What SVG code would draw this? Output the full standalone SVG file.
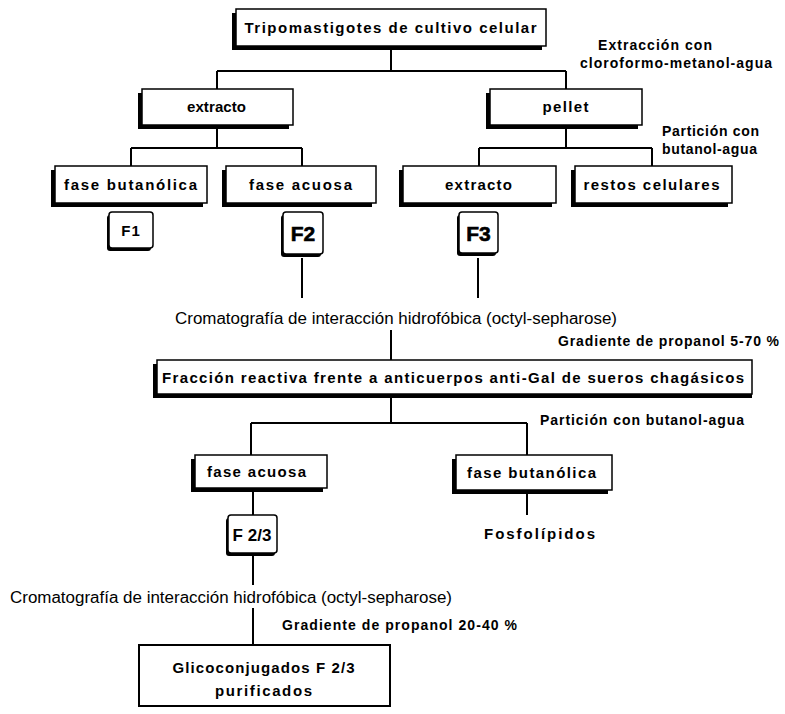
<svg xmlns="http://www.w3.org/2000/svg" width="785" height="714" viewBox="0 0 785 714">
<style>
.bg{fill:#fff}
.sh{fill:#000}
.bx{fill:#fff;stroke:#000;stroke-width:1.5}
.lbl{font-family:"Liberation Sans",Arial,sans-serif;font-weight:bold;font-size:15px;letter-spacing:1px;text-anchor:middle;fill:#000}
.big{font-family:"Liberation Sans",Arial,sans-serif;font-weight:900;font-size:21px;text-anchor:middle;fill:#000;stroke:#000;stroke-width:0.6}
.note{font-family:"Liberation Sans",Arial,sans-serif;font-weight:bold;font-size:14px;letter-spacing:1px;fill:#000}
.plain{font-family:"Liberation Sans",Arial,sans-serif;font-size:16px;fill:#000}
.con{stroke:#000;stroke-width:2;fill:none}
</style>
<rect class="bg" x="0" y="0" width="785" height="714"/>
<g id="connectors">
<path class="con" d="M391 46V71M217 71H566M217 71V89M566 71V89"/>
<path class="con" d="M217 125V148M131 148H302M131 148V166M302 148V166"/>
<path class="con" d="M566 125V148M479 148H652M479 148V166M652 148V166"/>
<path class="con" d="M302 258V298M478 258V298"/>
<path class="con" d="M391 330V361"/>
<path class="con" d="M391 394V423M251 423H527M251 423V455M527 423V455"/>
<path class="con" d="M253 488V515M253 555V585M527 490V515M253 608V645"/>
</g>
<g id="n-tripo"><rect class="sh" x="232" y="13" width="310" height="37"/><rect class="bx" x="236" y="9" width="310" height="37"/><text class="lbl" x="391" y="33" textLength="293">Tripomastigotes de cultivo celular</text></g>
<g id="t-extraccion"><text class="note" x="598" y="50" textLength="115">Extracción con</text><text class="note" x="580" y="68" textLength="193">cloroformo-metanol-agua</text></g>
<g id="n-extracto1"><rect class="sh" x="138" y="93" width="151" height="36"/><rect class="bx" x="142" y="89" width="151" height="36"/><text class="lbl" x="217" y="112" textLength="60">extracto</text></g>
<g id="n-pellet"><rect class="sh" x="486" y="93" width="152" height="36"/><rect class="bx" x="490" y="89" width="152" height="36"/><text class="lbl" x="566" y="112" textLength="47">pellet</text></g>
<g id="t-particion1"><text class="note" x="662" y="136" textLength="98">Partición con</text><text class="note" x="662" y="154" textLength="96">butanol-agua</text></g>
<g id="n-fbut1"><rect class="sh" x="51" y="170" width="152" height="37"/><rect class="bx" x="55" y="166" width="152" height="37"/><text class="lbl" x="131" y="190" textLength="134">fase butanólica</text></g>
<g id="n-facu1"><rect class="sh" x="222" y="170" width="150" height="37"/><rect class="bx" x="226" y="166" width="150" height="37"/><text class="lbl" x="301" y="190" textLength="104">fase acuosa</text></g>
<g id="n-extracto2"><rect class="sh" x="399" y="170" width="153" height="37"/><rect class="bx" x="403" y="166" width="153" height="37"/><text class="lbl" x="479" y="190" textLength="68">extracto</text></g>
<g id="n-restos"><rect class="sh" x="571" y="170" width="157" height="37"/><rect class="bx" x="575" y="166" width="157" height="37"/><text class="lbl" x="652" y="190" textLength="137">restos celulares</text></g>
<g id="n-f1"><rect class="sh" x="107" y="215" width="44" height="36" rx="3"/><rect class="bx" x="109" y="212" width="44" height="36" rx="3"/><text class="lbl" x="131" y="236">F1</text></g>
<g id="n-f2"><rect class="sh" x="281" y="215" width="40" height="42" rx="3"/><rect class="bx" x="283" y="212" width="40" height="42" rx="3"/><text class="big" x="303" y="241">F2</text></g>
<g id="n-f3"><rect class="sh" x="457" y="215" width="39" height="41" rx="3"/><rect class="bx" x="459" y="212" width="39" height="41" rx="3"/><text class="big" x="478.5" y="241">F3</text></g>
<text class="plain" x="175" y="324" textLength="442" lengthAdjust="spacingAndGlyphs">Cromatografía de interacción hidrofóbica (octyl-sepharose)</text>
<text class="note" x="558" y="346" textLength="222">Gradiente de propanol 5-70 %</text>
<g id="n-fraccion"><rect class="sh" x="153" y="364" width="599" height="34"/><rect class="bx" x="157" y="360" width="595" height="34"/><text class="lbl" x="162" y="383" textLength="583" style="text-anchor:start">Fracción reactiva frente a anticuerpos anti-Gal de sueros chagásicos</text></g>
<text class="note" x="540" y="425" textLength="205">Partición con butanol-agua</text>
<g id="n-facu2"><rect class="sh" x="191" y="459" width="132" height="33"/><rect class="bx" x="195" y="455" width="132" height="33"/><text class="lbl" x="257" y="477" textLength="100">fase acuosa</text></g>
<g id="n-fbut2"><rect class="sh" x="452" y="459" width="156" height="35"/><rect class="bx" x="456" y="455" width="156" height="35"/><text class="lbl" x="532" y="478" textLength="130">fase butanólica</text></g>
<g id="n-f23"><rect class="sh" x="226" y="518" width="49" height="38" rx="3"/><rect class="bx" x="228" y="515" width="49" height="38" rx="3"/><text class="lbl" x="252.5" y="541" style="font-size:17px" textLength="40">F 2/3</text></g>
<g id="n-fosfo"><text class="lbl" x="540" y="539" textLength="112">Fosfolípidos</text></g>
<text class="plain" x="10" y="603" textLength="442" lengthAdjust="spacingAndGlyphs">Cromatografía de interacción hidrofóbica (octyl-sepharose)</text>
<text class="note" x="282" y="630" textLength="236">Gradiente de propanol 20-40 %</text>
<g id="n-glico"><rect class="bx" x="139" y="645" width="251" height="61" style="stroke-width:2"/><text class="lbl" x="264" y="673" textLength="183">Glicoconjugados F 2/3</text><text class="lbl" x="264" y="696" textLength="98">purificados</text></g>
</svg>
